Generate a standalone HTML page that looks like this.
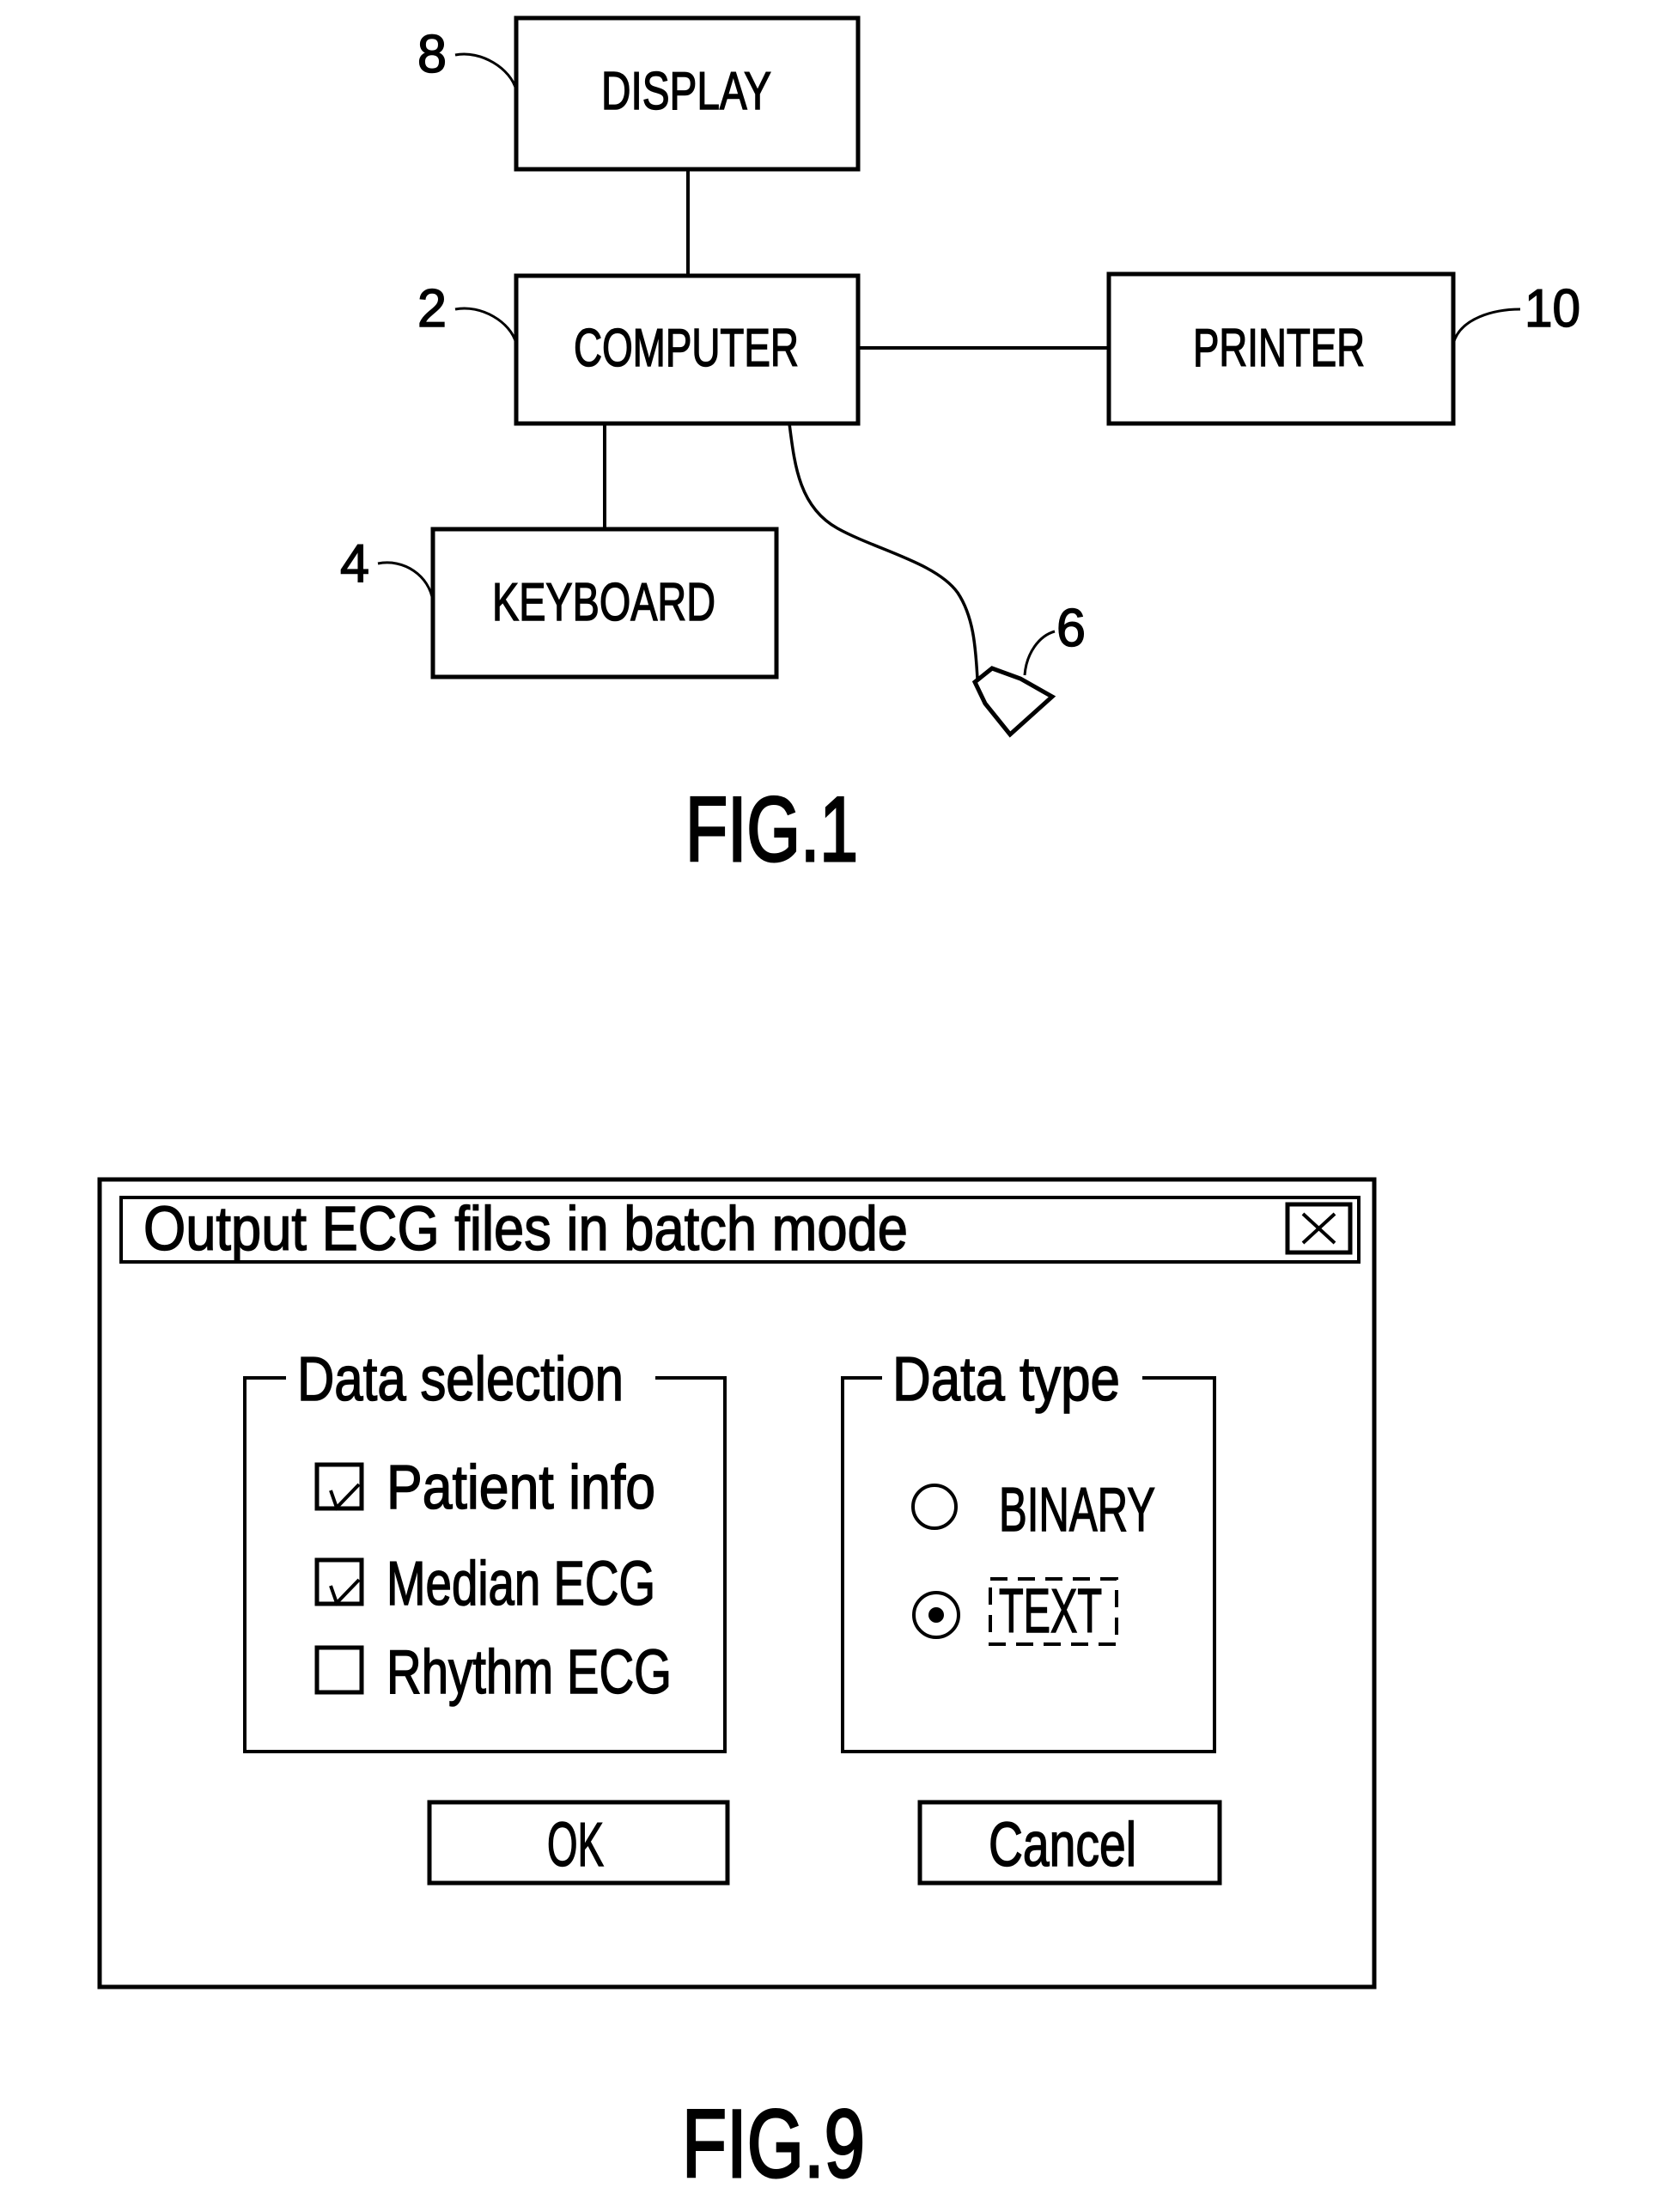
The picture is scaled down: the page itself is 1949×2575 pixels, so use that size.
<!DOCTYPE html>
<html><head><meta charset="utf-8"><style>
html,body{margin:0;padding:0;background:#fff}
svg{display:block}
text{font-family:"Liberation Sans",sans-serif;fill:#000;stroke:#000;stroke-width:1.5}
</style></head><body>
<svg width="1949" height="2575" viewBox="0 0 1949 2575" xmlns="http://www.w3.org/2000/svg">
<g fill="none" stroke="#000" stroke-width="5">
<rect x="601" y="21" width="398" height="176"/>
<rect x="601" y="321" width="398" height="172"/>
<rect x="1291" y="319" width="401" height="174"/>
<rect x="504" y="616" width="400" height="172"/>
<line x1="801" y1="197" x2="801" y2="321" stroke-width="4"/>
<line x1="999" y1="405" x2="1291" y2="405" stroke-width="4"/>
<line x1="704" y1="493" x2="704" y2="616" stroke-width="4"/>
<path d="M919 493 C925 540 930 590 975 615 C1020 640 1090 655 1115 690 C1135 720 1136 760 1138 790" stroke-width="3.5"/>
<polygon points="1135,794 1155,778 1188,790 1225,811 1176,855 1147,819"/>
<path d="M530 64 C560 58 595 80 601 105" stroke-width="3"/>
<path d="M530 360 C560 354 595 375 601 400" stroke-width="3"/>
<path d="M440 656 C470 650 500 670 504 700" stroke-width="3"/>
<path d="M1692 400 C1700 370 1740 360 1770 360" stroke-width="3"/>
<path d="M1193 786 C1195 760 1210 740 1228 735" stroke-width="3"/>
</g>
<g font-size="62">
<text x="799" y="127" text-anchor="middle" textLength="198" lengthAdjust="spacingAndGlyphs">DISPLAY</text>
<text x="799" y="426" text-anchor="middle" textLength="262" lengthAdjust="spacingAndGlyphs">COMPUTER</text>
<text x="1489" y="426" text-anchor="middle" textLength="200" lengthAdjust="spacingAndGlyphs">PRINTER</text>
<text x="703" y="722" text-anchor="middle" textLength="260" lengthAdjust="spacingAndGlyphs">KEYBOARD</text>
<text x="486" y="84" textLength="34" lengthAdjust="spacingAndGlyphs">8</text>
<text x="486" y="380" textLength="34" lengthAdjust="spacingAndGlyphs">2</text>
<text x="396" y="677" textLength="34" lengthAdjust="spacingAndGlyphs">4</text>
<text x="1775" y="380" textLength="65" lengthAdjust="spacingAndGlyphs">10</text>
<text x="1230" y="752" textLength="34" lengthAdjust="spacingAndGlyphs">6</text>
</g>
<text x="798" y="1002" font-size="107" textLength="201" lengthAdjust="spacingAndGlyphs" style="stroke-width:3">FIG.1</text>

<g fill="none" stroke="#000" stroke-width="4">
<rect x="116" y="1373" width="1484" height="940" stroke-width="5"/>
<rect x="141" y="1394" width="1441" height="75"/>
<rect x="1499" y="1402" width="73" height="56" stroke-width="5"/>
<line x1="1517" y1="1413" x2="1554" y2="1447"/>
<line x1="1554" y1="1413" x2="1517" y2="1447"/>
<path d="M333 1604 H285 V2039 H844 V1604 H763"/>
<path d="M1027 1604 H981 V2039 H1414 V1604 H1330"/>
<rect x="369" y="1705" width="52" height="51" stroke-width="5"/>
<rect x="369" y="1816" width="52" height="51" stroke-width="5"/>
<rect x="369" y="1918" width="52" height="52" stroke-width="5"/>
<path d="M385 1735 L392 1755 L418 1728"/>
<path d="M385 1846 L392 1866 L418 1839"/>
<circle cx="1088" cy="1754" r="25"/>
<circle cx="1090" cy="1880" r="26"/>
<rect x="1153" y="1838" width="147" height="76" stroke-dasharray="20,12"/>
<rect x="500" y="2098" width="347" height="94" stroke-width="5"/>
<rect x="1071" y="2098" width="349" height="94" stroke-width="5"/>
</g>
<circle cx="1090" cy="1880" r="9" fill="#000"/>
<g font-size="72">
<text x="167" y="1455" textLength="890" lengthAdjust="spacingAndGlyphs">Output  ECG  files  in  batch  mode</text>
<text x="346" y="1630" textLength="380" lengthAdjust="spacingAndGlyphs">Data  selection</text>
<text x="1039" y="1630" textLength="265" lengthAdjust="spacingAndGlyphs">Data  type</text>
<text x="450" y="1756" textLength="313" lengthAdjust="spacingAndGlyphs">Patient  info</text>
<text x="450" y="1868" textLength="313" lengthAdjust="spacingAndGlyphs">Median  ECG</text>
<text x="450" y="1971" textLength="332" lengthAdjust="spacingAndGlyphs">Rhythm  ECG</text>
<text x="1163" y="1782" textLength="182" lengthAdjust="spacingAndGlyphs">BINARY</text>
<text x="1163" y="1900" textLength="120" lengthAdjust="spacingAndGlyphs">TEXT</text>
<text x="670" y="2172" text-anchor="middle" textLength="66" lengthAdjust="spacingAndGlyphs">OK</text>
<text x="1237" y="2172" text-anchor="middle" textLength="172" lengthAdjust="spacingAndGlyphs">Cancel</text>
</g>
<text x="794" y="2534" font-size="112" textLength="213" lengthAdjust="spacingAndGlyphs" style="stroke-width:3">FIG.9</text>
</svg>
</body></html>
